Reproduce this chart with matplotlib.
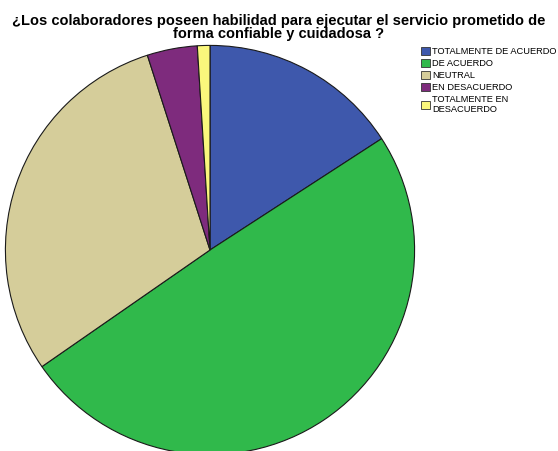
import matplotlib.pyplot as plt
from matplotlib.patches import Patch

plt.rcParams['font.family'] = ['Liberation Sans', 'DejaVu Sans']

categorias = ['TOTALMENTE DE ACUERDO', 'DE ACUERDO', 'NEUTRAL',
              'EN DESACUERDO', 'TOTALMENTE EN\nDESACUERDO']
frecuencias = [16, 50, 30, 4, 1]
colores = ['#3E58AC', '#30B94B', '#D5CD9A', '#7E2B7D', '#FAF77C']

fig = plt.figure(figsize=(5.58, 4.51), dpi=100)
ax = fig.add_axes([5 / 558, -4 / 451, 410 / 558, 410 / 451])
ax.pie(frecuencias, colors=colores, startangle=90, counterclock=False,
       radius=1.0, wedgeprops=dict(edgecolor='#1a1a1a', linewidth=0.8))
ax.set_xlim(-1.002, 1.002)
ax.set_ylim(-1.002, 1.002)
ax.set_aspect('equal')
ax.axis('off')

# titulo en dos lineas, la linea de base es la de la ultima linea
fig.text(0.5, 1 - 38 / 451,
         '¿Los colaboradores poseen habilidad para ejecutar el servicio prometido de\nforma confiable y cuidadosa ?',
         ha='center', va='baseline', fontsize=10.5, fontweight='bold', linespacing=0.9)

handles = [Patch(facecolor=c, edgecolor='#333333', linewidth=0.6) for c in colores]
fig.legend(handles, categorias, loc='upper left',
           bbox_to_anchor=(421 / 558, 1 - 47 / 451), frameon=False,
           fontsize=6.7, handlelength=1.0, handleheight=1.0, handletextpad=0.2,
           labelspacing=0.28, borderpad=0, borderaxespad=0)

fig.savefig('out.png', dpi=100)
